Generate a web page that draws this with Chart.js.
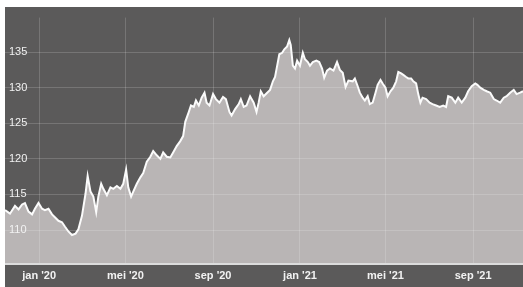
<!DOCTYPE html>
<html>
<head>
<meta charset="utf-8">
<script src="https://cdn.jsdelivr.net/npm/chart.js@4.4.1/dist/chart.umd.min.js"></script>
<style>
    html, body { margin: 0; padding: 0; background: #fff; }
    #wrap { position: absolute; left: 5px; top: 7px; width: 518px; height: 280px; background: #5b5a5a; }
</style>
</head>
<body>
<div id="wrap"><canvas id="myChart"></canvas></div>
<script>
// dagen geteld vanaf 1 jan 2020
const days = [-48, -41, -34, -29, -24, -20, -15, -10, -6, -1, 4, 8, 13, 18, 22, 27, 32, 36, 41, 46,
    51, 55, 60, 65, 68, 72, 76, 80, 83, 87, 90, 95, 100, 104, 109, 114, 118, 122, 125, 129,
    132, 137, 142, 146, 151, 156, 160, 165, 170, 174, 179, 184, 188, 193, 198, 202, 205, 210, 213, 217,
    220, 224, 228, 232, 235, 239, 244, 248, 253, 258, 262, 267, 270, 275, 280, 283, 287, 291, 296, 301,
    305, 308, 311, 315, 320, 324, 328, 331, 334, 337, 341, 344, 348, 351, 353, 356, 359, 362, 366, 370,
    373, 377, 380, 384, 389, 393, 397, 400, 404, 408, 413, 418, 422, 426, 430, 434, 440, 443, 447, 450,
    454, 457, 461, 464, 468, 472, 475, 479, 482, 486, 489, 493, 497, 501, 504, 508, 511, 515, 518, 522,
    525, 529, 532, 535, 538, 543, 548, 552, 557, 562, 567, 571, 574, 579, 584, 588, 593, 598, 602, 607,
    612, 615, 619, 624, 628, 633, 638, 642, 647, 652, 656, 661, 666, 670, 675, 679];
const koers = [112.8, 112.3, 113.4, 112.9, 113.6, 113.8, 112.6, 112.2, 113.0, 113.8, 113.0, 112.8, 113.0, 112.2, 111.8, 111.3, 111.1, 110.5, 109.8, 109.3,
    109.5, 110.1, 112.0, 115.1, 117.6, 115.4, 114.7, 112.5, 114.7, 116.5, 115.8, 114.9, 116.0, 115.8, 116.2, 115.8, 116.5, 118.5, 116.0, 114.7,
    115.4, 116.5, 117.4, 118.0, 119.6, 120.3, 121.1, 120.5, 120.0, 120.9, 120.3, 120.2, 120.9, 121.8, 122.5, 123.2, 125.2, 126.6, 127.5, 127.3,
    128.2, 127.5, 128.6, 129.3, 127.9, 127.5, 129.1, 128.4, 127.9, 128.7, 128.4, 126.6, 126.1, 127.0, 127.7, 128.4, 127.3, 127.5, 128.8, 127.9,
    126.6, 127.9, 129.5, 128.8, 129.3, 129.7, 130.9, 131.5, 133.1, 134.7, 134.9, 135.4, 135.8, 136.7, 136.0, 133.1, 132.7, 133.8, 133.1, 134.9,
    134.0, 133.6, 133.1, 133.6, 133.8, 133.6, 132.7, 131.4, 132.4, 132.7, 132.4, 133.6, 132.5, 132.1, 130.1, 131.0, 130.9, 131.3, 130.2, 129.3,
    128.6, 128.2, 128.8, 127.7, 127.9, 129.3, 130.4, 131.1, 130.6, 130.0, 128.8, 129.5, 130.0, 130.9, 132.2, 132.0, 131.8, 131.5, 131.3, 131.3,
    130.9, 130.6, 129.1, 127.9, 128.6, 128.4, 127.9, 127.7, 127.5, 127.3, 127.5, 127.3, 128.8, 128.6, 127.9, 128.6, 127.9, 128.6, 129.5, 130.2,
    130.6, 130.4, 130.0, 129.7, 129.5, 129.3, 128.4, 128.2, 127.9, 128.6, 128.8, 129.3, 129.7, 129.1, 129.3, 129.5];
const yTicks = [110, 115, 120, 125, 130, 135];
const xTickDays = [0, 121, 244, 366, 486, 609];
const xTickLabels = ["jan '20", "mei '20", "sep '20", "jan '21", "mei '21", "sep '21"];

const ctx = document.getElementById('myChart');
const punten = days.map((d, i) => ({ x: d, y: koers[i] }));

const config = {
    type: 'line',
    data: {
        datasets: [{
            data: punten,
            borderColor: '#fbfbfb',
            borderWidth: 2,
            backgroundColor: '#b9b5b5',
            fill: 'start',
            pointRadius: 0,
            tension: 0
        }]
    },
    options: {
        responsive: true,
        maintainAspectRatio: false,
        animation: false,
        layout: { padding: 0 },
        plugins: {
            legend: { display: false },
            tooltip: { enabled: false }
        },
        scales: {
            x: {
                type: 'linear',
                min: -48,
                max: 679,
                afterBuildTicks: (scale) => {
                    scale.ticks = xTickDays.map(v => ({ value: v }));
                },
                afterFit: (scale) => { scale.height = 23; },
                ticks: {
                    z: 1,
                    autoSkip: false,
                    color: '#f2f2f2',
                    font: { family: 'Liberation Sans', size: 11, weight: 'bold' },
                    padding: 5,
                    maxRotation: 0,
                    callback: (value, index) => xTickLabels[index]
                },
                grid: { z: 1, color: 'rgba(255,255,255,0.17)', drawTicks: false },
                border: { z: 1, color: '#dcdcdc', width: 2 }
            },
            y: {
                min: 105.23,
                max: 139.85,
                afterBuildTicks: (scale) => {
                    scale.ticks = yTicks.map(v => ({ value: v }));
                },
                afterFit: (scale) => { scale.width = 0; },
                ticks: {
                    z: 1,
                    autoSkip: false,
                    mirror: true,
                    padding: 4,
                    color: '#f2f2f2',
                    font: { family: 'Liberation Sans', size: 11 },
                    callback: (value) => String(value)
                },
                grid: { z: 1, color: 'rgba(255,255,255,0.17)', drawTicks: false },
                border: { display: false }
            }
        }
    }
};

window.myChart = new Chart(ctx, config);
</script>
</body>
</html>
